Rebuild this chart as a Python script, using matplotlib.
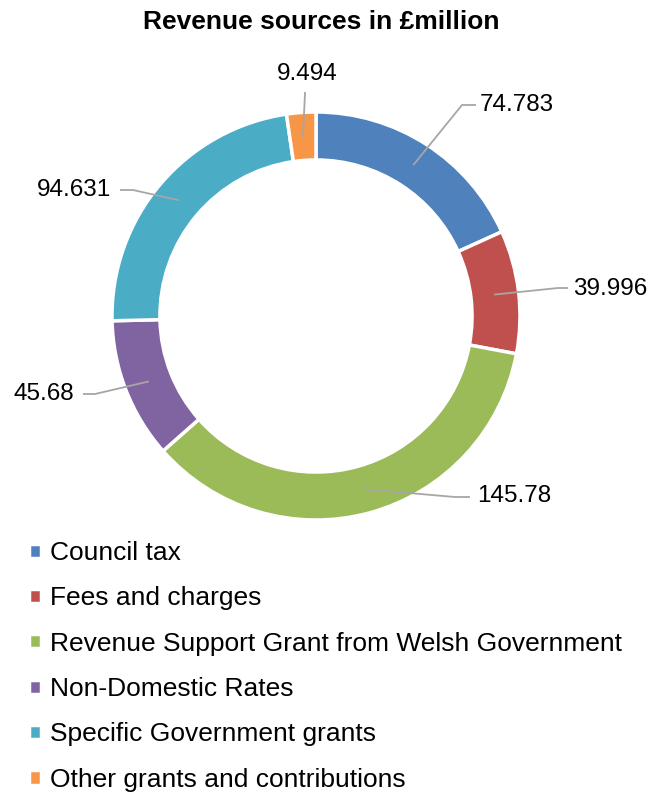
import matplotlib
matplotlib.use('Agg')
import matplotlib.pyplot as plt
import numpy as np

plt.rcParams['font.family'] = ['Liberation Sans', 'DejaVu Sans']

categories = ['Council tax', 'Fees and charges', 'Revenue Support Grant from Welsh Government',
              'Non-Domestic Rates', 'Specific Government grants', 'Other grants and contributions']
values = [74.783, 39.996, 145.78, 45.68, 94.631, 9.494]
labels = ['74.783', '39.996', '145.78', '45.68', '94.631', '9.494']
colors = ['#4F81BD', '#C0504D', '#9BBB59', '#8064A2', '#4BACC6', '#F79646']

W, H = 651, 796
cx, cy, R = 316, 316, 204   # pie centre and radius in pixels

fig = plt.figure(figsize=(W / 100, H / 100), dpi=100)
ax = fig.add_axes([(cx - 300) / W, 1 - (cy + 250) / H, 600 / W, 500 / H])

wedges, _ = ax.pie(values, colors=colors, startangle=90, counterclock=False, radius=1,
                   wedgeprops=dict(width=0.235, edgecolor='white', linewidth=2.5))
ax.set_aspect('auto')
ax.set_xlim(-300 / R, 300 / R)
ax.set_ylim(-250 / R, 250 / R)
ax.axis('off')


def px(x, y):
    return (x - cx) / R, (cy - y) / R


# label layout: elbow point, end point, text anchor, ha (pixels)
layout = [
    ((462, 105), (476, 105), (480, 105), 'left'),
    ((558, 288), (568, 288), (573, 289), 'left'),
    ((455, 497), (470, 497), (477, 496), 'left'),
    ((95, 394), (83, 394), (74, 394), 'right'),
    ((133, 190), (120, 190), (111, 190), 'right'),
    ((305, 93), (305, 92), (307, 74), 'center'),
]

total = sum(values)
cum = 0
for v, lab, (elb, end, tpos, ha) in zip(values, labels, layout):
    ang = np.deg2rad(90 - 360 * (cum + v / 2) / total)
    cum += v
    r = 0.88
    ax0, ay0 = r * np.cos(ang), r * np.sin(ang)
    ex, ey = px(*elb)
    nx, ny = px(*end)
    ax.plot([ax0, ex, nx], [ay0, ey, ny], color='#A6A6A6', lw=1.3, solid_capstyle='butt')
    tx, ty = px(*tpos)
    ax.text(tx, ty, lab, ha=ha, va='center', fontsize=17.5, color='black')

fig.text(321 / W, 1 - 22 / H, 'Revenue sources in £million', ha='center', va='center',
         fontsize=19, fontweight='bold')

fig.legend(wedges, categories, loc='upper left', bbox_to_anchor=(29 / W, 1 - 541 / H),
           frameon=False, fontsize=19, handlelength=0.45, handleheight=0.45,
           handletextpad=0.35, labelspacing=0.81, borderpad=0, borderaxespad=0)

fig.savefig('out.png', dpi=100)
